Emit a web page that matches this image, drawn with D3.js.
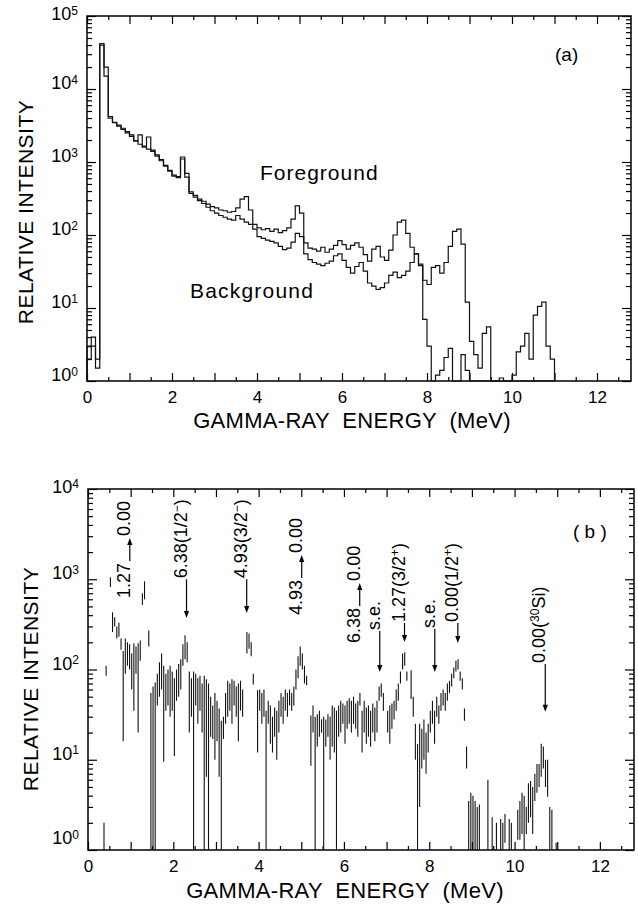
<!DOCTYPE html>
<html>
<head>
<meta charset="utf-8">
<script src="https://cdn.jsdelivr.net/npm/d3@7"></script>
<style>
  body { margin: 0; background: #fff; }
  svg { display: block; font-family: "Liberation Sans", Arial, Helvetica, sans-serif; }
</style>
</head>
<body>
<div id="chart"></div>
<script>
// ---- panel (a): spectra, 0.1 MeV bins starting at 0 MeV ----
const binStart = 0;
const binWidth = 0.1;
const foreground = [
  3, 4, 2, 40000, 15000, 4200, 3500, 3200, 2900, 2600,          // 0.0-0.9
  2350, 1950, 2350, 1650, 2200, 1450, 1250, 1080, 900, 770,     // 1.0-1.9
  660, 630, 1170, 700, 390, 350, 310, 290, 265, 245,            // 2.0-2.9
  235, 220, 215, 205, 210, 235, 310, 335, 220, 140,             // 3.0-3.9
  125, 118, 122, 112, 120, 108, 115, 125, 165, 250,             // 4.0-4.9
  200, 78, 66, 64, 60, 68, 58, 64, 72, 84,                      // 5.0-5.9
  74, 64, 72, 78, 68, 54, 44, 64, 70, 50,                       // 6.0-6.9
  45, 62, 100, 150, 160, 105, 68, 55, 38, 24,                   // 7.0-7.9
  21, 36, 38, 30, 42, 70, 112, 120, 75, 12,                     // 8.0-8.9
  3.5, 2.3, 1.5, 4.5, 5.5, 0, 0, 1.1, 0, 0,                     // 9.0-9.9
  1.2, 2.5, 3, 4.5, 2, 8, 10.5, 12, 3, 2                        // 10.0-10.9
];
const background = [
  2, 3, 1.5, 42000, 20000, 4000, 3450, 3100, 2800, 2500,        // 0.0-0.9
  2250, 1950, 1750, 1600, 1500, 1400, 1200, 1040, 880, 750,     // 1.0-1.9
  640, 610, 1100, 620, 370, 330, 295, 270, 240, 215,            // 2.0-2.9
  200, 185, 175, 165, 160, 185, 165, 150, 140, 120,             // 3.0-3.9
  95, 90, 85, 82, 78, 70, 63, 66, 80, 105,                      // 4.0-4.9
  95, 55, 46, 42, 40, 38, 41, 44, 52, 55,                       // 5.0-5.9
  45, 36, 30, 37, 42, 32, 22, 20, 18, 19,                       // 6.0-6.9
  22, 28, 31, 26, 28, 32, 42, 55, 40, 7,                        // 7.0-7.9
  3, 0, 1.2, 1.4, 2.1, 2.8, 0, 0, 2.3, 1.4,                     // 8.0-8.9
  0, 0, 0, 0, 0, 0, 0, 0, 0, 0,                                 // 9.0-9.9
  0, 0, 0, 0, 0, 0, 0, 0, 0, 0                                  // 10.0-10.9
];

// ---- panel (b): difference spectrum, 0.05 MeV bins, error-bar ranges ----
const diffBinWidth = 0.05;
const diffEnergy = [
  0.35, 0.40, 0.50, 0.55, 0.60, 0.65, 0.70, 0.75, 0.80, 0.85, 0.90, 0.95,
  1.00, 1.05, 1.10, 1.15, 1.20, 1.25, 1.30, 1.40, 1.45, 1.50, 1.55, 1.60, 1.65, 1.70, 1.75, 1.80, 1.85, 1.90, 1.95,
  2.00, 2.05, 2.10, 2.15, 2.20, 2.25, 2.30, 2.35, 2.40, 2.45, 2.50, 2.55, 2.60, 2.65, 2.70, 2.75, 2.80, 2.85, 2.90, 2.95,
  3.00, 3.05, 3.10, 3.15, 3.20, 3.25, 3.30, 3.35, 3.40, 3.45, 3.50, 3.55, 3.60, 3.70, 3.75, 3.80, 3.85, 3.95,
  4.00, 4.05, 4.10, 4.15, 4.20, 4.25, 4.30, 4.35, 4.40, 4.45, 4.50, 4.55, 4.60, 4.65, 4.70, 4.75, 4.80, 4.85, 4.90, 4.95,
  5.00, 5.05, 5.10, 5.20, 5.25, 5.30, 5.35, 5.40, 5.45, 5.50, 5.55, 5.60, 5.65, 5.70, 5.75, 5.80, 5.85, 5.90, 5.95,
  6.00, 6.05, 6.10, 6.15, 6.20, 6.25, 6.30, 6.35, 6.40, 6.45, 6.50, 6.55, 6.60, 6.65, 6.70, 6.75, 6.80, 6.85, 6.90,
  7.00, 7.05, 7.10, 7.15, 7.20, 7.25, 7.30, 7.35, 7.40, 7.45, 7.55, 7.60, 7.65, 7.70, 7.75, 7.80, 7.85, 7.90, 7.95,
  8.00, 8.05, 8.10, 8.15, 8.20, 8.25, 8.30, 8.35, 8.40, 8.45, 8.50, 8.55, 8.60, 8.65, 8.70, 8.75, 8.80, 8.85, 8.90, 8.95,
  9.00, 9.05, 9.10, 9.15, 9.35, 9.45, 9.55, 9.65, 9.70, 9.75, 9.85, 9.90,
  10.05, 10.10, 10.15, 10.20, 10.25, 10.30, 10.35, 10.40, 10.45, 10.50, 10.55, 10.60, 10.65, 10.70, 10.75, 10.80, 10.85, 10.95
];
const diffLo = [
  1, 85, 820, 260, 300, 220, 230, 165, 16, 90, 110, 100,
  60, 35, 90, 20, 125, 520, 600, 180, 1, 1, 1, 40, 50, 60, 9.5, 35, 40, 30, 35,
  11, 45, 50, 60, 110, 130, 120, 20, 30, 1, 40, 25, 35, 20, 1, 6.5, 1, 18, 17, 10,
  16, 6.5, 1, 17, 25, 30, 35, 25, 40, 30, 16, 35, 30, 150, 170, 140, 68, 12,
  35, 25, 30, 1, 25, 15, 12, 18, 10, 20, 30, 25, 35, 30, 40, 35, 40, 60, 80, 110,
  100, 70, 67, 8.6, 20, 1, 14, 18, 20, 1, 14, 18, 10, 14, 12, 1, 18, 20, 25,
  15, 22, 25, 20, 25, 22, 18, 40, 12, 20, 15, 18, 14, 20, 16, 20, 45, 50, 35,
  20, 15, 22, 28, 35, 45, 70, 100, 110, 75, 47, 30, 10, 1, 3, 8, 10, 7, 12,
  20, 25, 15, 30, 25, 35, 40, 35, 45, 55, 65, 80, 95, 100, 75, 60, 27, 8, 1, 1,
  1, 1, 1, 1, 1, 1, 1, 1, 1, 1.2, 1, 1,
  1.3, 1.3, 1.5, 1, 1.5, 2, 2.3, 1.5, 3.5, 4.3, 5, 6.5, 8, 5, 3.9, 1, 1, 1
];
const diffHi = [
  2, 110, 1050, 430, 380, 300, 330, 220, 160, 220, 200, 190,
  150, 195, 180, 195, 210, 700, 950, 270, 55, 65, 72, 90, 120, 150, 110, 90, 100, 110, 95,
  80, 100, 115, 130, 190, 240, 200, 95, 80, 95, 90, 80, 85, 70, 85, 78, 70, 50, 40, 55,
  45, 37, 27, 30, 55, 75, 70, 78, 75, 65, 70, 75, 60, 260, 250, 200, 90, 59,
  60, 55, 60, 35, 45, 40, 30, 38, 35, 45, 55, 50, 60, 55, 60, 55, 65, 100, 140, 180,
  150, 110, 85, 31, 40, 30, 32, 35, 28, 30, 28, 32, 30, 40, 38, 35, 40, 45, 42,
  40, 45, 48, 45, 50, 42, 45, 55, 35, 45, 38, 40, 35, 42, 38, 45, 65, 70, 55,
  35, 40, 42, 45, 60, 70, 95, 150, 155, 95, 98, 50, 25, 15, 25, 22, 28, 20, 25,
  35, 45, 35, 50, 40, 55, 60, 55, 70, 75, 90, 105, 125, 130, 95, 80, 37, 14, 3.5, 4.3,
  4, 3.5, 3, 3.2, 6, 2.3, 2, 2.2, 2, 2.5, 2.2, 2,
  2.8, 3.5, 4.3, 4, 3, 5.5, 5.8, 5, 7, 9, 9, 15, 14, 10, 10, 3, 2.8, 1.2
];

// ---- panel (b) annotations: "|" marks an inline arrow, ^{..} a superscript ----
const annoText = ["1.27|0.00", "6.38(1/2^{\u2212})", "4.93(3/2^{\u2212})", "4.93|0.00", "6.38|0.00",
  "s.e.", "1.27(3/2^{+})", "s.e.", "0.00(1/2^{+})", "0.00(^{30}Si)"];
const annoEnergy = [0.98, 2.31, 3.72, 5.01, 6.37, 6.84, 7.42, 8.13, 8.67, 10.72];
const annoBase = [620, 1025, 1025, 402, 197, 274, 336, 288, 336, 118];
const annoTip = [null, 372, 423, null, null, 94, 202, 94, 197, 34];

const xTickLabels = [0, 2, 4, 6, 8, 10, 12];

// ---- layout ----
const W = 638, H = 905;
const svg = d3.select("#chart").append("svg").attr("width", W).attr("height", H);

const panels = [
  { id: "a", left: 87, right: 631, top: 16, bottom: 381, maxDecade: 5 },
  { id: "b", left: 88, right: 634, top: 489, bottom: 850, maxDecade: 4 }
];

function scalesFor(p) {
  return {
    x: d3.scaleLinear().domain([0, 12.8]).range([p.left, p.right]),
    y: d3.scaleLog().domain([1, 10 ** p.maxDecade]).range([p.bottom, p.top])
  };
}

// text with ^{..} superscripts as tspans
function addRich(text, label, supSize, shift) {
  let up = false;
  label.split(/(\^\{[^}]*\})/).filter(s => s).forEach(part => {
    const m = part.match(/^\^\{(.*)\}$/);
    if (m) {
      text.append("tspan").attr("font-size", supSize).attr("dy", up ? 0 : -shift).text(m[1]);
      up = true;
    } else {
      text.append("tspan").attr("dy", up ? shift : 0).text(part);
      up = false;
    }
  });
}

function drawFrame(p, x, y) {
  const g = svg.append("g").attr("class", `frame-${p.id}`);
  const majorE = d3.range(0, 13, 1);
  const minorE = d3.range(0.5, 12.8, 1);
  const logMajor = d3.range(0, p.maxDecade + 1).map(k => 10 ** k);
  const logMinor = [];
  for (let k = 0; k < p.maxDecade; k++) {
    for (let m = 2; m <= 9; m++) logMinor.push(m * 10 ** k);
  }
  const clean = s => s.call(a => a.select(".domain").remove())
    .attr("font-family", null).attr("font-size", null)
    .selectAll("line").attr("stroke-width", 1.2);

  g.append("g").attr("transform", `translate(0,${p.bottom})`)
    .call(d3.axisBottom(x).tickValues(majorE).tickSize(-8).tickPadding(10)
      .tickFormat(d => xTickLabels.includes(d) ? String(d) : ""))
    .call(clean);
  g.select("g").selectAll("text").attr("font-size", 17).attr("fill", "#000");
  g.append("g").attr("transform", `translate(0,${p.bottom})`)
    .call(d3.axisBottom(x).tickValues(minorE).tickSize(-4).tickFormat(""))
    .call(clean);
  g.append("g").attr("transform", `translate(0,${p.top})`)
    .call(d3.axisTop(x).tickValues(majorE).tickSize(-8).tickFormat(""))
    .call(clean);
  g.append("g").attr("transform", `translate(0,${p.top})`)
    .call(d3.axisTop(x).tickValues(minorE).tickSize(-4).tickFormat(""))
    .call(clean);

  [[d3.axisLeft, p.left], [d3.axisRight, p.right]].forEach(([ax, pos]) => {
    g.append("g").attr("transform", `translate(${pos},0)`)
      .call(ax(y).tickValues(logMajor).tickSize(-9).tickFormat(""))
      .call(clean);
    g.append("g").attr("transform", `translate(${pos},0)`)
      .call(ax(y).tickValues(logMinor).tickSize(-5).tickFormat(""))
      .call(clean);
  });

  g.append("rect")
    .attr("x", p.left).attr("y", p.top)
    .attr("width", p.right - p.left).attr("height", p.bottom - p.top)
    .attr("fill", "none").attr("stroke", "#000").attr("stroke-width", 1.5);

  logMajor.forEach((v, k) => {
    let shiftY = 0;
    if (k === p.maxDecade) shiftY = 4;
    if (p.id === "b" && k === 0) shiftY = -6;
    const t = g.append("text")
      .attr("x", p.left - 9).attr("y", y(v) + shiftY).attr("dy", "0.36em")
      .attr("text-anchor", "end").attr("font-size", 18);
    addRich(t, `10^{${k}}`, 12, 5.5);
  });
  return g;
}

// ---- panel (a) ----
const pa = panels[0];
const A = scalesFor(pa);
drawFrame(pa, A.x, A.y);

const stepLine = d3.line()
  .x(d => A.x(d[0]))
  .y(d => A.y(Math.max(d[1], 1)))
  .curve(d3.curveStepAfter);

[foreground, background].forEach(series => {
  const pts = [[binStart, 1]].concat(series.map((v, i) => [binStart + i * binWidth, v]));
  pts.push([binStart + series.length * binWidth, 1]);
  svg.append("path")
    .attr("d", stepLine(pts))
    .attr("fill", "none")
    .attr("stroke", "#111")
    .attr("stroke-width", 1.2);
});

svg.append("text").attr("x", 260).attr("y", 180)
  .attr("font-size", 21).attr("letter-spacing", 1).text("Foreground");
svg.append("text").attr("x", 190).attr("y", 298)
  .attr("font-size", 21).attr("letter-spacing", 1.2).text("Background");
svg.append("text").attr("x", 555).attr("y", 61)
  .attr("font-size", 19).text("(a)");

// ---- panel (b) ----
const pb = panels[1];
const B = scalesFor(pb);
drawFrame(pb, B.x, B.y);

svg.append("g").attr("class", "diff")
  .selectAll("line")
  .data(diffEnergy.map((e, i) => ({ e, lo: diffLo[i], hi: diffHi[i] })))
  .join("line")
  .attr("x1", d => B.x(d.e + diffBinWidth / 2))
  .attr("x2", d => B.x(d.e + diffBinWidth / 2))
  .attr("y1", d => B.y(Math.max(d.lo, 1)))
  .attr("y2", d => B.y(d.hi))
  .attr("stroke", "#111")
  .attr("stroke-width", 1.1);

svg.append("text").attr("x", 573).attr("y", 538)
  .attr("font-size", 19).style("white-space", "pre").text("( b )");

const arrowLen = 23;
const annoG = svg.append("g").attr("font-size", 18);

function arrowHead(sel, pts) {
  sel.append("path").attr("d", d3.line()(pts) + "Z").attr("fill", "#000");
}

annoText.forEach((label, i) => {
  const px = B.x(annoEnergy[i]);
  const py = B.y(annoBase[i]);
  const g = annoG.append("g").attr("transform", `translate(${px},${py}) rotate(-90)`);
  let pos = 0;
  label.split("|").forEach((part, j) => {
    if (j > 0) {
      const a = pos + 2, b = pos + 2 + arrowLen;
      g.append("line").attr("x1", a).attr("x2", b - 5).attr("y1", 0).attr("y2", 0)
        .attr("stroke", "#000").attr("stroke-width", 1.2);
      arrowHead(g, [[b, 0], [b - 7, -2.6], [b - 7, 2.6]]);
      pos = b + 2;
    }
    const t = g.append("text").attr("x", pos).attr("y", 0).attr("dy", "0.36em");
    addRich(t, part, 12, 6);
    pos += t.node().getComputedTextLength();
  });
  if (annoTip[i] != null) {
    const ty = B.y(annoTip[i]);
    annoG.append("line").attr("x1", px).attr("x2", px).attr("y1", py + 1).attr("y2", ty - 5)
      .attr("stroke", "#000").attr("stroke-width", 1.2);
    arrowHead(annoG, [[px, ty], [px - 2.6, ty - 7], [px + 2.6, ty - 7]]);
  }
});

// ---- axis titles ----
[[pa, 33, 212, 352, 428], [pb, 38, 679, 345, 898]].forEach(([p, yx, yy, xx, xy]) => {
  svg.append("text")
    .attr("transform", `translate(${yx},${yy}) rotate(-90)`)
    .attr("text-anchor", "middle").attr("font-size", 21).attr("letter-spacing", 0.5)
    .text("RELATIVE INTENSITY");
  svg.append("text")
    .attr("x", xx).attr("y", xy)
    .attr("text-anchor", "middle").attr("font-size", 22).attr("letter-spacing", 0.3)
    .style("white-space", "pre")
    .text("GAMMA-RAY  ENERGY  (MeV)");
});
</script>
</body>
</html>
